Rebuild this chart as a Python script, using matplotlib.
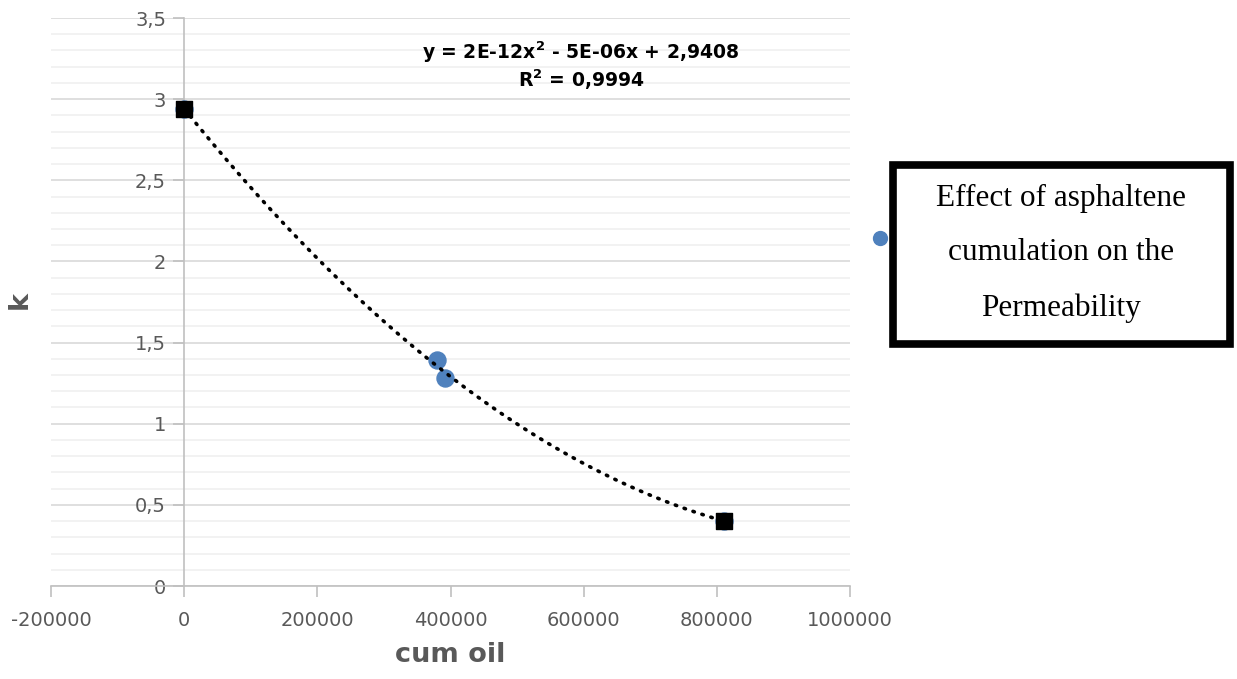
import numpy as np
import matplotlib.pyplot as plt
from matplotlib.patches import Rectangle
from matplotlib.ticker import MultipleLocator, FuncFormatter

# data
cum_oil = [0, 380000, 392000, 811000]
k_vals = [2.94, 1.39, 1.28, 0.40]
# end points drawn as black squares
end_x = [0, 811000]
end_k = [2.94, 0.40]

eq_text = 'y = 2E-12x$^{\\mathbf{2}}$ - 5E-06x + 2,9408'
r2_text = 'R$^{\\mathbf{2}}$ = 0,9994'
legend_lines = ['Effect of asphaltene', 'cumulation on the', 'Permeability']

blue = '#4f81bd'
grey_txt = '#595959'
plt.rcParams['font.family'] = ['DejaVu Sans']
plt.rcParams['mathtext.fontset'] = 'dejavusans'

fig = plt.figure(figsize=(12.37, 6.79), dpi=100)
ax = fig.add_axes([51 / 1237, 1 - 586 / 679, 799 / 1237, 568 / 679])

ax.set_xlim(-200000, 1000000)
ax.set_ylim(0, 3.5)

# gridlines, Excel style
ax.yaxis.set_major_locator(MultipleLocator(0.5))
ax.yaxis.set_minor_locator(MultipleLocator(0.1))
ax.xaxis.set_major_locator(MultipleLocator(200000))
ax.grid(axis='y', which='major', color='#d9d9d9', lw=1.2, zorder=0)
ax.grid(axis='y', which='minor', color='#f0f0f0', lw=1.2, zorder=0)
ax.set_axisbelow(True)

for s in ['top', 'right']:
    ax.spines[s].set_visible(False)
ax.spines['left'].set_position(('data', 0))
ax.spines['left'].set_color('#c0c0c0')
ax.spines['bottom'].set_color('#c0c0c0')
ax.spines['left'].set_linewidth(1.2)
ax.spines['bottom'].set_linewidth(1.2)

ax.tick_params(axis='both', which='major', direction='out', length=8,
               color='#c0c0c0', width=1.2, labelcolor=grey_txt, labelsize=14)
ax.tick_params(axis='x', pad=10)
ax.tick_params(axis='y', pad=5)
ax.tick_params(which='minor', length=0)
ax.yaxis.set_major_formatter(FuncFormatter(lambda v, p: f'{v:g}'.replace('.', ',')))
ax.xaxis.set_major_formatter(FuncFormatter(lambda v, p: f'{v:.0f}'))

# polynomial trendline from the points
coef = np.polyfit(cum_oil, k_vals, 2)
xs = np.linspace(min(cum_oil), max(cum_oil), 300)
ax.plot(xs, np.polyval(coef, xs), color='black', lw=2.6,
        linestyle=(0, (0.4, 2.2)), dash_capstyle='round', zorder=4)

ax.scatter(cum_oil, k_vals, s=150, color=blue, zorder=3)
ax.scatter(end_x, end_k, s=120, marker='s', color='black', zorder=5)

ax.text(596000, 3.29, eq_text, fontsize=13.5, fontweight='bold', ha='center', va='center')
ax.text(596000, 3.12, r2_text, fontsize=13.5, fontweight='bold', ha='center', va='center')

fig.text(450 / 1237, 1 - 655 / 679, 'cum oil', fontsize=19.5, fontweight='bold',
         color=grey_txt, ha='center', va='center')
fig.text(20 / 1237, 1 - 300 / 679, 'k', fontsize=19.5, fontweight='bold',
         color=grey_txt, ha='center', va='center', rotation=90)

# legend marker and text box
fig.add_artist(plt.Line2D([880 / 1237], [1 - 238 / 679], marker='o', ms=10,
                          color=blue, transform=fig.transFigure))
fig.add_artist(Rectangle((893 / 1237, 1 - 344 / 679), 337 / 1237, 179 / 679,
                         transform=fig.transFigure, fill=False, ec='black', lw=5.5))
for i, line in enumerate(legend_lines):
    fig.text(1061 / 1237, 1 - (198 + 55 * i) / 679, line, fontsize=22.5,
             family='Liberation Serif', ha='center', va='center')

fig.savefig('out.png', dpi=100)
